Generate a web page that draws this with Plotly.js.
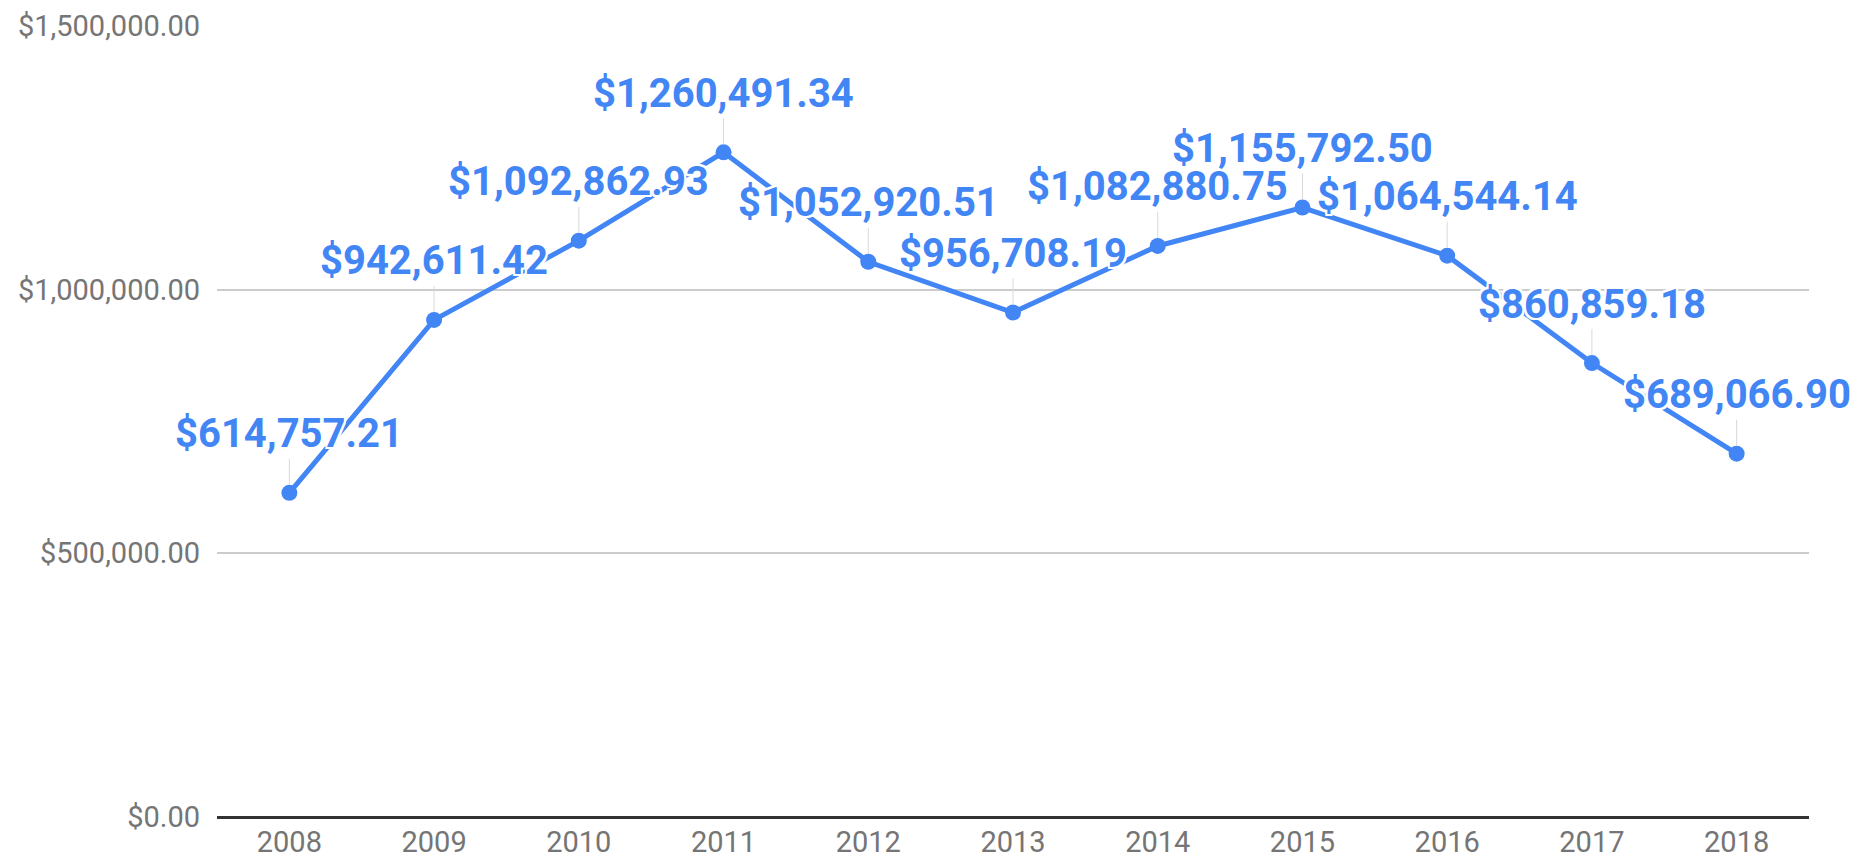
<!DOCTYPE html>
<html>
<head>
<meta charset="utf-8">
<script src="https://cdn.plot.ly/plotly-3.0.1.min.js"></script>
<style>
  html, body { margin: 0; padding: 0; background: #fff; }
  #chart { width: 1852px; height: 859px; }
</style>
</head>
<body>
<div id="chart"></div>
<script>
const years = ['2008','2009','2010','2011','2012','2013','2014','2015','2016','2017','2018'];
const values = [614757.21, 942611.42, 1092862.93, 1260491.34, 1052920.51, 956708.19, 1082880.75, 1155792.50, 1064544.14, 860859.18, 689066.90];
const yTickVals = [0, 500000, 1000000, 1500000];

const blue = '#4285F4';
const fmt = v => '$' + v.toLocaleString('en-US', {minimumFractionDigits: 2, maximumFractionDigits: 2});
const halo = '2px 0 0 #fff, -2px 0 0 #fff, 0 2px 0 #fff, 0 -2px 0 #fff, 2px 2px 0 #fff, -2px -2px 0 #fff, 2px -2px 0 #fff, -2px 2px 0 #fff';

const trace = {
  type: 'scatter',
  mode: 'lines+markers',
  x: years,
  y: values,
  line: {color: blue, width: 5},
  marker: {color: blue, size: 16},
  hoverinfo: 'skip',
  cliponaxis: false
};

const annotations = years.map((yr, i) => ({
  x: i,
  y: values[i],
  xref: 'x',
  yref: 'y',
  text: '<b>' + fmt(values[i]) + '</b>',
  showarrow: true,
  arrowhead: 0,
  arrowwidth: 1,
  arrowcolor: '#d9d9d9',
  standoff: 8,
  ax: 0,
  ay: -59,
  font: {family: 'Roboto, sans-serif', size: 40, color: blue, shadow: halo}
}));

const layout = {
  width: 1852,
  height: 859,
  margin: {l: 217, r: 43, t: 26, b: 42},
  paper_bgcolor: '#ffffff',
  plot_bgcolor: '#ffffff',
  showlegend: false,
  font: {family: 'Roboto, sans-serif'},
  xaxis: {
    type: 'category',
    range: [-0.5, 10.5],
    showgrid: false,
    zeroline: false,
    showline: false,
    ticks: '',
    ticklabelstandoff: 5,
    tickfont: {family: 'Roboto, sans-serif', size: 29, color: '#757575'}
  },
  yaxis: {
    range: [0, 1500000],
    tickvals: yTickVals,
    tickformat: '$,.2f',
    showgrid: true,
    gridcolor: '#cccccc',
    gridwidth: 1.5,
    zeroline: true,
    zerolinecolor: '#333333',
    zerolinewidth: 2.5,
    ticks: '',
    ticklabelstandoff: 16,
    tickfont: {family: 'Roboto, sans-serif', size: 29, color: '#757575'}
  },
  annotations: annotations
};

window.onerror = function(m){ document.body.insertAdjacentHTML('beforeend','<pre>'+m+'</pre>'); };
Plotly.newPlot('chart', [trace], layout, {displayModeBar: false}).catch(e => document.body.insertAdjacentHTML('beforeend','<pre>'+e+'</pre>'));
</script>
</body>
</html>
